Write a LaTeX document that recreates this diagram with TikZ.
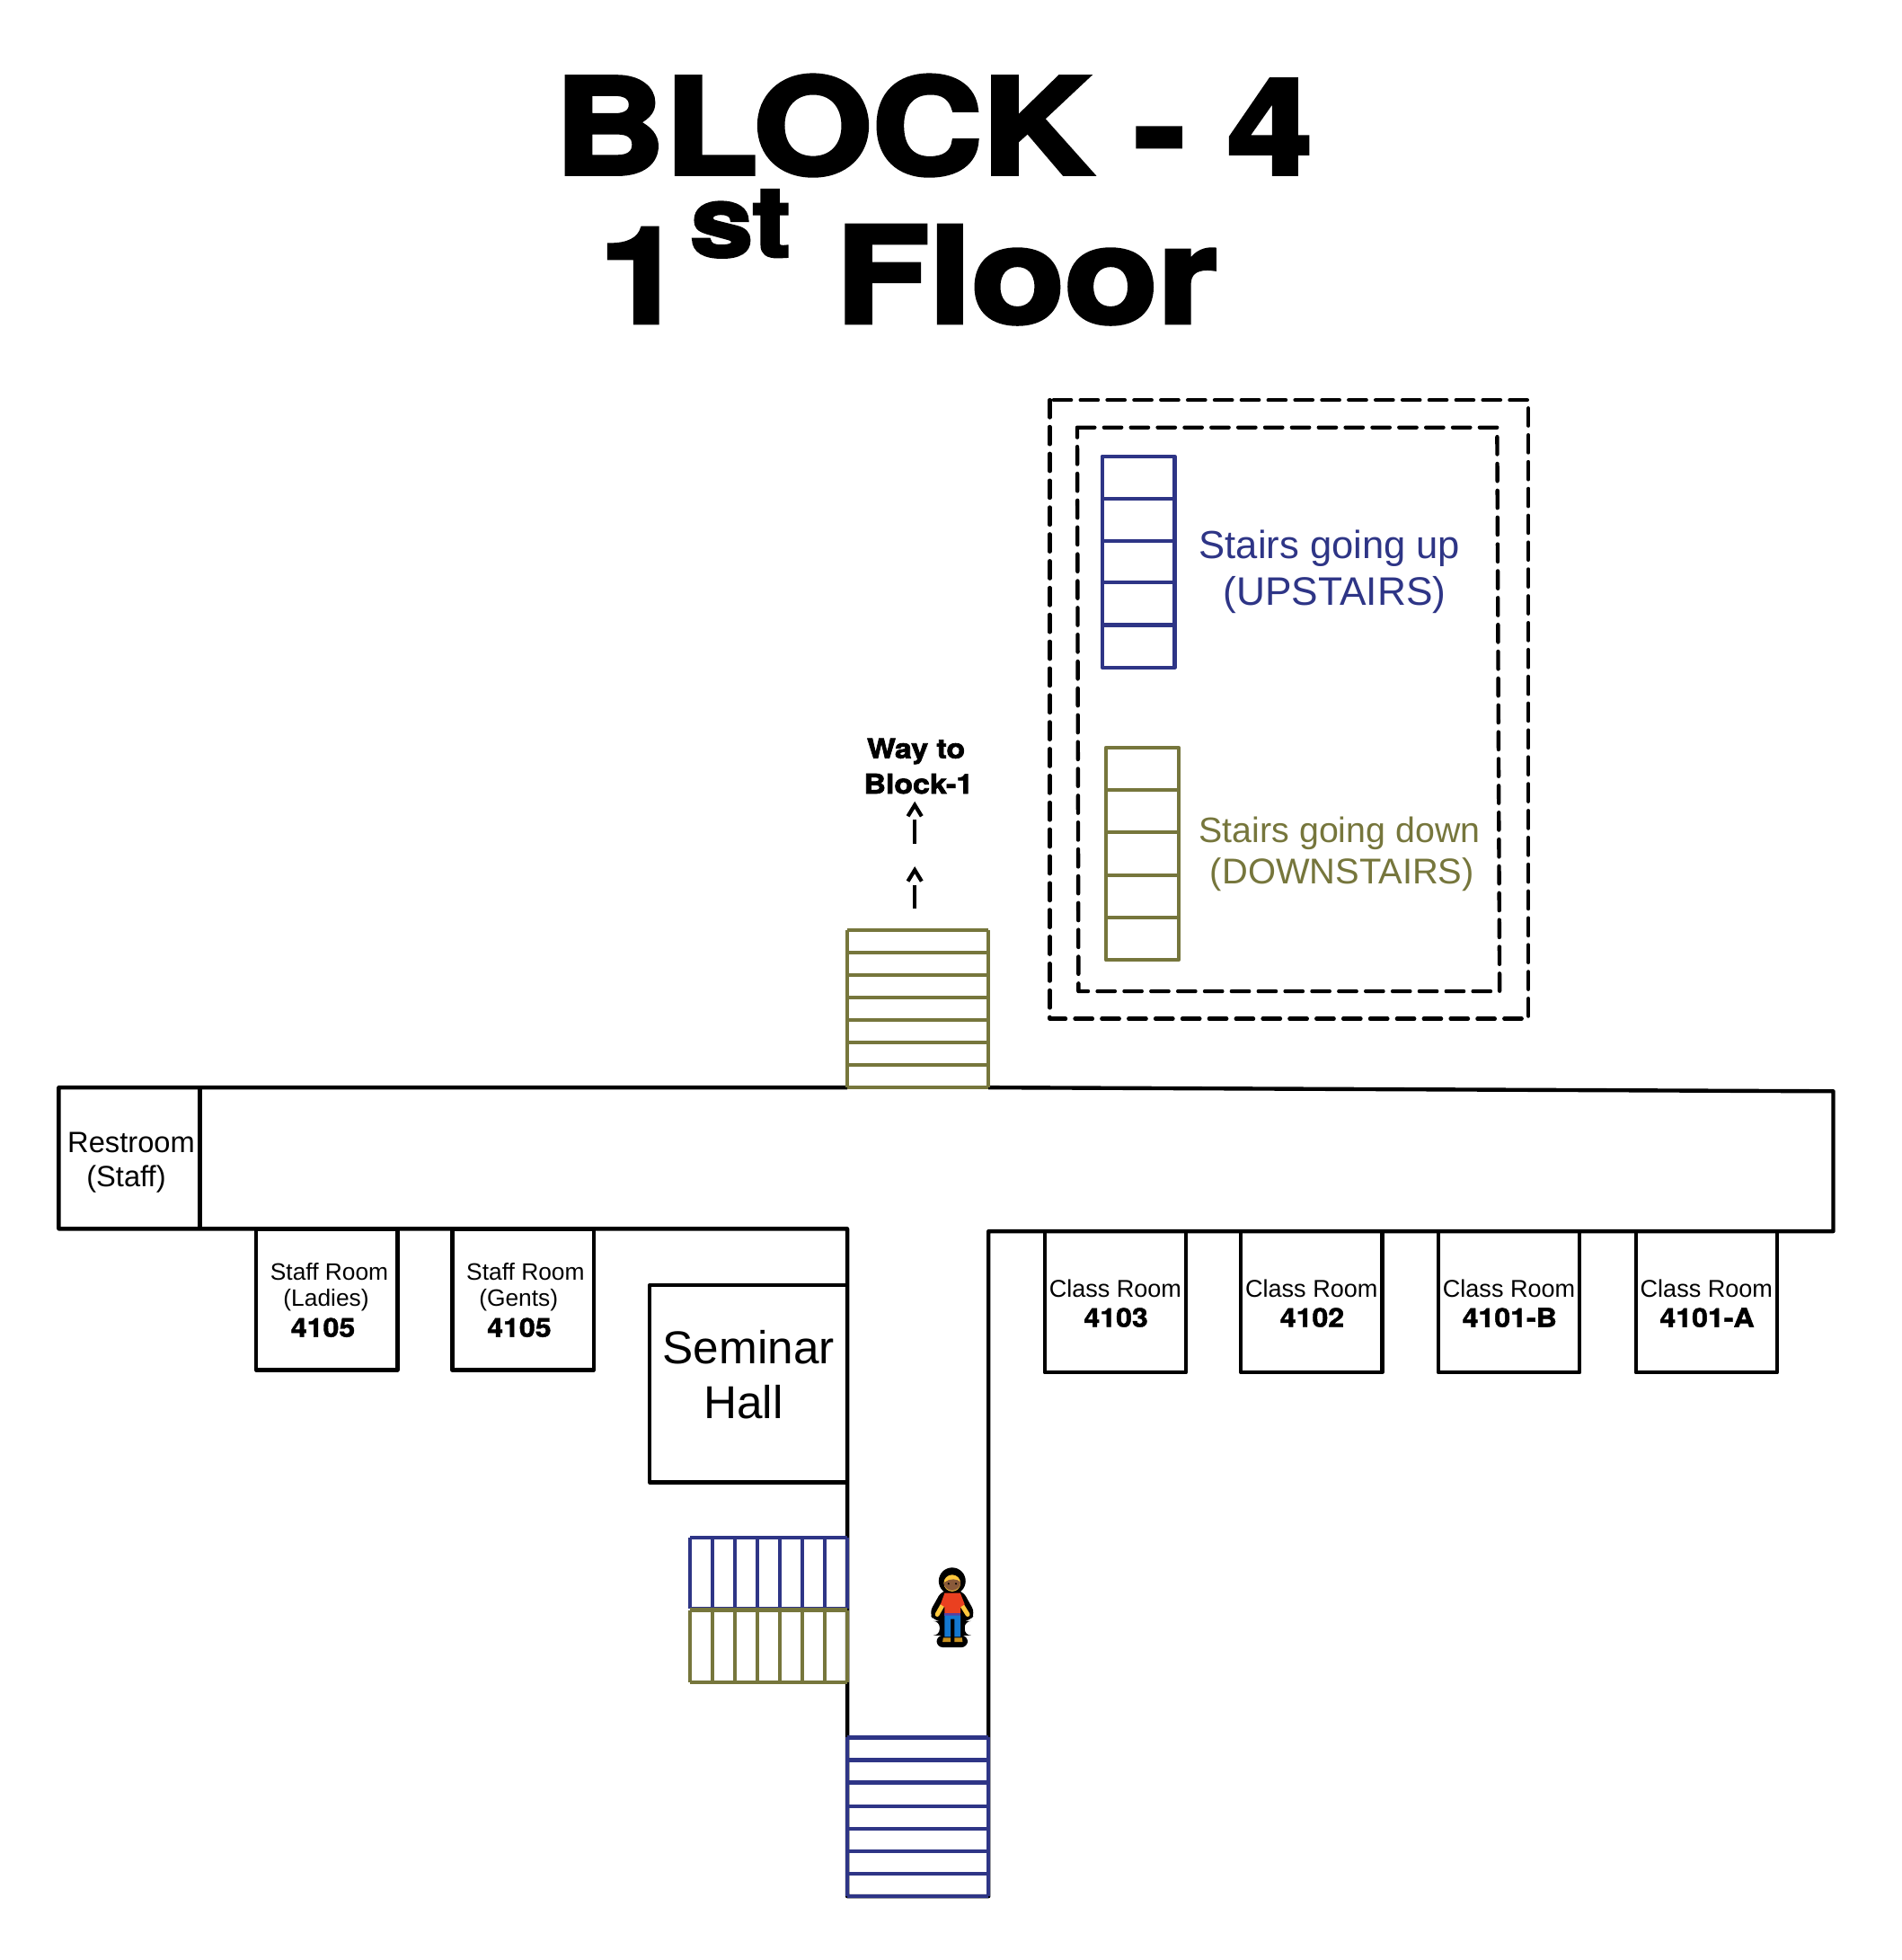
\documentclass[tikz,border=0pt]{standalone}
\usepackage{fontspec}
\setmainfont{Liberation Sans}
\newfontfamily\titlefont[BoldFeatures={FakeBold=3.5,FakeStretch=1.15}]{TeX Gyre Heros}
\newfontfamily\heavyfont[BoldFeatures={FakeBold=1.5,FakeStretch=1.1}]{TeX Gyre Heros}
\newfontfamily\blackfont[BoldFeatures={FakeBold=2.5,FakeStretch=1.12}]{TeX Gyre Heros}
\definecolor{upblue}{HTML}{2E3586}
\definecolor{downolive}{HTML}{76763C}
\definecolor{skincol}{HTML}{FFC83D}
\definecolor{haircol}{HTML}{8A5A3A}
\definecolor{shirtcol}{HTML}{EA4020}
\definecolor{pantscol}{HTML}{1478D0}
\definecolor{beltcol}{HTML}{5A3FA0}
\definecolor{shoecol}{HTML}{C8901E}
\tikzset{
  wall/.style={draw=black, line width=1.25pt, line join=round},
  upstair/.style={draw=upblue, line width=1.2pt, line join=round},
  downstair/.style={draw=downolive, line width=1.2pt, line join=round},
  dashwall/.style={wall, line cap=round, dash pattern=on 5.5pt off 3pt},
  label/.style={inner sep=0pt, font=\fontsize{#1}{#1}\selectfont},
  roomnum/.style={inner sep=0pt, font=\heavyfont\bfseries\fontsize{#1}{#1}\selectfont},
  waylabel/.style={inner sep=0pt, font=\blackfont\bfseries\fontsize{8.6}{8.6}\selectfont},
  wayarrow/.style={line width=1.2pt, line join=miter},
  titletext/.style={inner sep=0pt, font=\titlefont\bfseries\fontsize{42}{42}\selectfont},
}
\begin{document}
\begin{tikzpicture}[x=0.01391cm, y=-0.01391cm]
    \useasboundingbox (0,0) rectangle (1522,1568);

    % Title
    \node[titletext, anchor=base] (title) at (747,139) {BLOCK - 4};
    \node[titletext, anchor=base west] (floor) at (479,258) {1\kern2pt\raisebox{21pt}{\fontsize{31}{31}\selectfont st}\kern1pt\ Floor};

    % Legend
    \draw[dashwall] (840,320) rectangle (1223,815);
    \draw[dashwall] (862,342) -- (1198,342) -- (1200,793) -- (863,793) -- cycle;
    \draw[upstair] (882,365) rectangle (940,534);
    \foreach \y in {399,433,466,500} \draw[upstair] (882,\y) -- (940,\y);
    \draw[downstair] (885,598) rectangle (943,768);
    \foreach \y in {632,666,700,734} \draw[downstair] (885,\y) -- (943,\y);
    \node[label=12.4, text=upblue] (uplabel) at (1064,439) {Stairs going up};
    \node[label=12.6, text=upblue] (upname) at (1068,476) {(UPSTAIRS)};
    \node[label=11.2, text=downolive] (downlabel) at (1072,667) {Stairs going down};
    \node[label=11.35, text=downolive] (downname) at (1074,700) {(DOWNSTAIRS)};

    % Way out
    \node[waylabel] (wayto) at (733,601) {Way to};
    \node[waylabel] (block) at (735,627) {Block-1};
    \foreach \y in {675,727} {
        \draw[wayarrow] (732,\y) -- (732,\y-19);
        \draw[wayarrow] (726.5,\y-22) -- (732,\y-31) -- (737.5,\y-22);
    }

    % Corridors
    \draw[wall] (678,870) -- (47,870) -- (47,983) -- (678,983) -- (678,1517) -- (791,1517) -- (791,985) -- (1467,985) -- (1467,873) -- (791,870);
    \draw[wall] (160,870) -- (160,983);
    \node[label=9.3] (restroom) at (105,914) {Restroom};
    \node[label=9.3] (staff) at (101,943) {(Staff)};

    % Staff rooms
    \foreach \x/\who/\shift in {205/Ladies/56, 362/Gents/53} {
        \draw[wall] (\x,983) rectangle (\x+113,1096);
        \node[label=7.5] (staff\who) at (\x+58.5,1017) {Staff Room};
        \node[label=7.5] (name\who) at (\x+\shift,1040) {(\who)};
        \node[roomnum=8.3] (num\who) at (\x+53.5,1062) {4105};
    }

    % Seminar hall
    \draw[wall] (678,1028) -- (520,1028) -- (520,1186) -- (678,1186);
    \node[label=14.6] (seminar) at (599,1078) {Seminar};
    \node[label=14.6] (hall) at (595,1122) {Hall};

    % Class rooms
    \foreach \x/\num in {836/4103, 993/4102, 1151/4101-B, 1309/4101-A} {
        \draw[wall] (\x,985) rectangle (\x+113,1098);
        \node[label=7.7] (class\num) at (\x+56.5,1031) {Class Room};
        \node[roomnum=8.3] (num\num) at (\x+57,1054) {\num};
    }

    % Stairs
    \foreach \y in {744,762,780,798,816,834,852,870} \draw[downstair] (678,\y) -- (791,\y);
    \draw[downstair] (678,744) -- (678,870);
    \draw[downstair] (791,744) -- (791,870);
    \foreach \y in {1390,1408,1426,1445,1463,1481,1499,1517} \draw[upstair] (678,\y) -- (791,\y);
    \draw[upstair] (678,1390) -- (678,1517);
    \draw[upstair] (791,1390) -- (791,1517);
    \foreach \x in {552,570,588,606,624,642,660,678} {
        \draw[upstair] (\x,1230) -- (\x,1287);
        \draw[downstair] (\x,1288) -- (\x,1346);
    }
    \draw[upstair] (552,1230) -- (678,1230);
    \draw[upstair] (552,1287) -- (678,1287);
    \draw[downstair] (552,1288) -- (678,1288);
    \draw[downstair] (552,1346) -- (678,1346);

    % Person
    \begin{scope}[shift={(718.9,1236.6)}, x=0.003333cm, y=-0.003333cm]
        \fill[black] (180,118) circle (45);
        \fill[black, rounded corners=2pt] (145,150) -- (215,150) -- (257,225) -- (240,252) -- (222,252) -- (222,300) -- (232,300) -- (232,340) -- (128,340) -- (128,300) -- (138,300) -- (138,252) -- (120,252) -- (103,225) -- cycle;
        \fill[skincol] (180,125) circle (28);
        \fill[haircol] (152,122) arc (180:0:28) .. controls (200,110) and (170,108) .. (155,122) -- cycle;
        \fill[black] (168,127) circle (3.5) (193,127) circle (3.5);
        \draw[skincol, line width=1.4pt, line cap=round] (148,198) -- (130,230);
        \draw[skincol, line width=1.4pt, line cap=round] (212,198) -- (232,230);
        \fill[shirtcol] (155,158) -- (207,158) -- (222,196) -- (208,205) -- (208,226) -- (155,226) -- (155,205) -- (141,196) -- cycle;
        \fill[beltcol] (155,226) rectangle (208,233);
        \fill[pantscol] (155,233) -- (208,233) -- (208,305) -- (188,305) -- (188,245) -- (175,245) -- (175,305) -- (155,305) -- cycle;
        \fill[shoecol] (150,308) -- (175,308) -- (175,322) -- (148,322) -- cycle;
        \fill[shoecol] (188,308) -- (213,308) -- (215,322) -- (188,322) -- cycle;
    \end{scope}
\end{tikzpicture}
\end{document}
